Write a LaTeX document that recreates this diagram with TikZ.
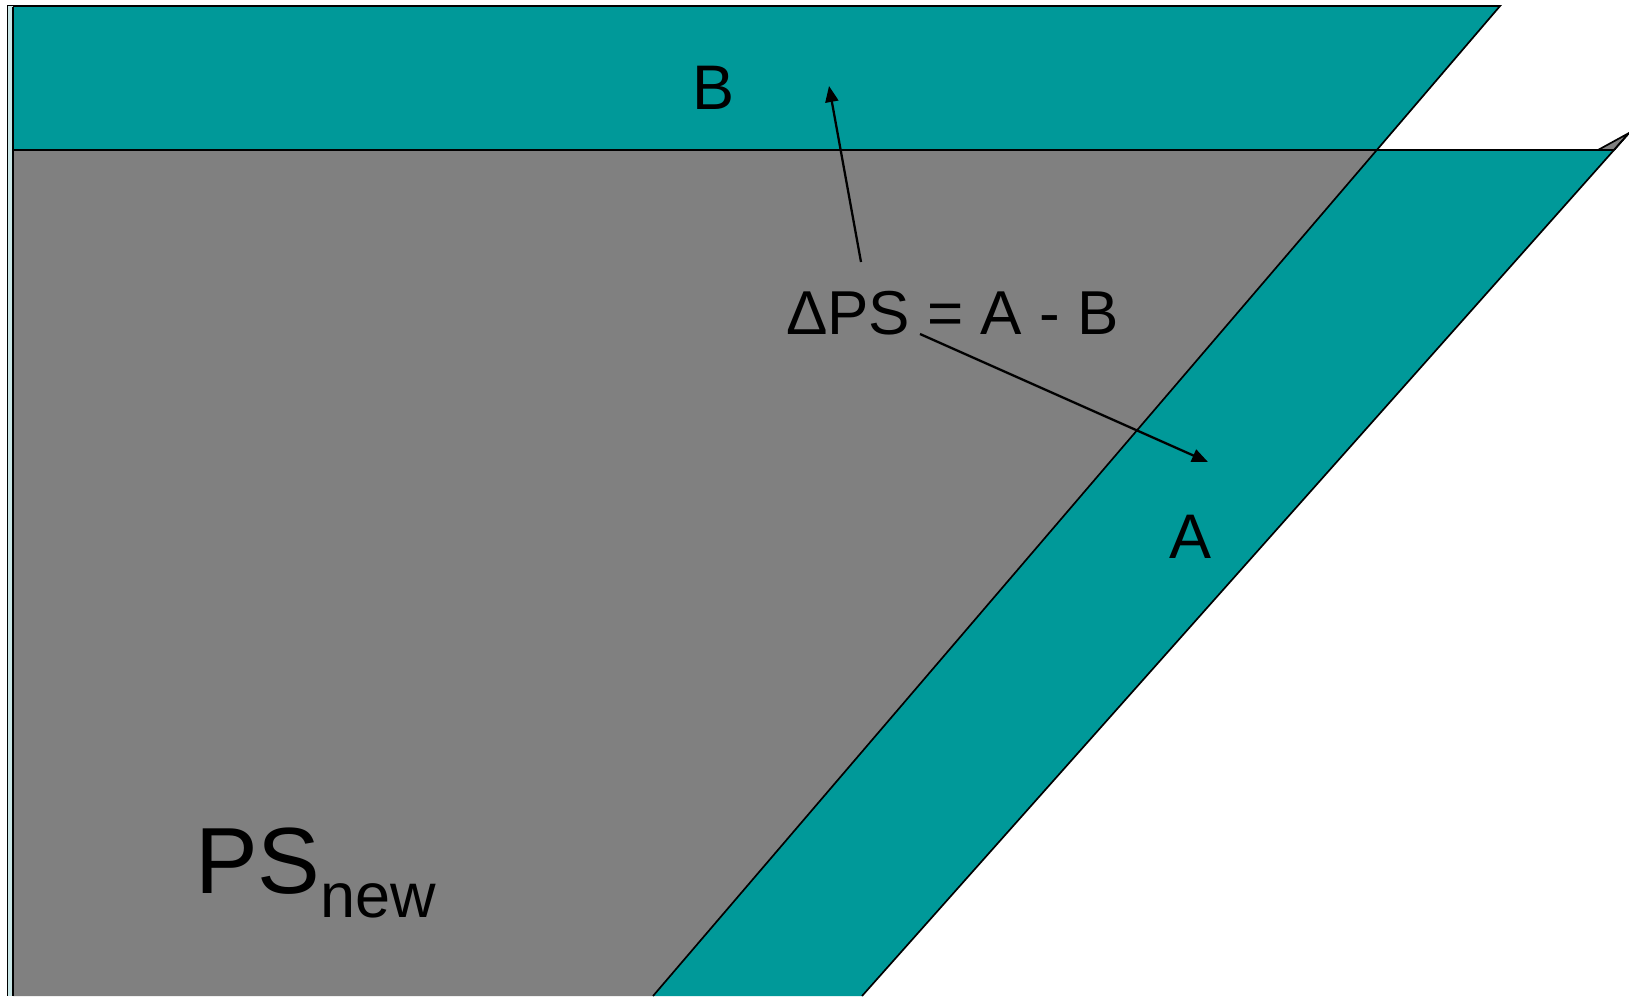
\documentclass[tikz,border=0pt]{standalone}
\usepackage{fontspec}
\setmainfont{Liberation Sans}
\usetikzlibrary{arrows.meta}
\definecolor{tealc}{RGB}{0,153,153}
\definecolor{greyc}{RGB}{128,128,128}
\definecolor{palec}{RGB}{200,230,230}
\tikzset{
  outl/.style={draw=black, line width=1.7pt, line join=miter},
  arr/.style={draw=black, line width=2.3pt, -{Triangle[length=16pt,width=13pt]}},
  lab/.style={inner sep=0pt, anchor=base west, font=\fontsize{63pt}{70pt}\selectfont},
}
\begin{document}
\begin{tikzpicture}[x=1pt,y=-1pt]
\useasboundingbox (0,0) rectangle (1629,996);
\coordinate (tr) at (1500,6);
\coordinate (bl) at (653,996);
\coordinate (mid) at (1376.8,150);
% grey region
\fill[greyc] (13,150) -- (mid) -- (bl) -- (13,996) -- cycle;
% top teal band
\fill[tealc] (13,6) -- (tr) -- (mid) -- (13,150) -- cycle;
% lower slanted teal band
\fill[tealc] (mid) -- (1614,150) -- (862,996) -- (bl) -- cycle;
% small grey sliver at top right
\filldraw[fill=greyc, outl] (1598,150) -- (1629,133) -- (1614,150);
% outlines
\draw[outl] (7,6) -- (tr) -- (bl);
\draw[outl] (13,150) -- (1614,150) -- (862,996);
\draw[outl] (1614,150) -- (1629,133);
% left edge strip
\fill[palec] (7.5,6) rectangle (13,996);
\draw[outl] (7.5,6) -- (7.5,996);
\draw[line width=1.2pt] (13,6.8) -- (13,996);
% labels
\node[lab, font=\fontsize{62pt}{70pt}\selectfont] (eq) at (786,334) {ΔPS = A - B};
\node[lab] (labB) at (692,109) {B};
\node[lab] (labA) at (1169,558) {A};
\node[inner sep=0pt, anchor=base west, font=\fontsize{94pt}{100pt}\selectfont] (psnew) at (195,893) {PS\raisebox{-24pt}{\fontsize{63pt}{70pt}\selectfont new}};
% arrows
\coordinate (tB) at (861,262);
\coordinate (hB) at (829,86);
\coordinate (tA) at (920,334);
\coordinate (hA) at (1208,462);
\draw[arr] (tB) -- (hB);
\draw[arr] (tA) -- (hA);
\end{tikzpicture}
\end{document}
